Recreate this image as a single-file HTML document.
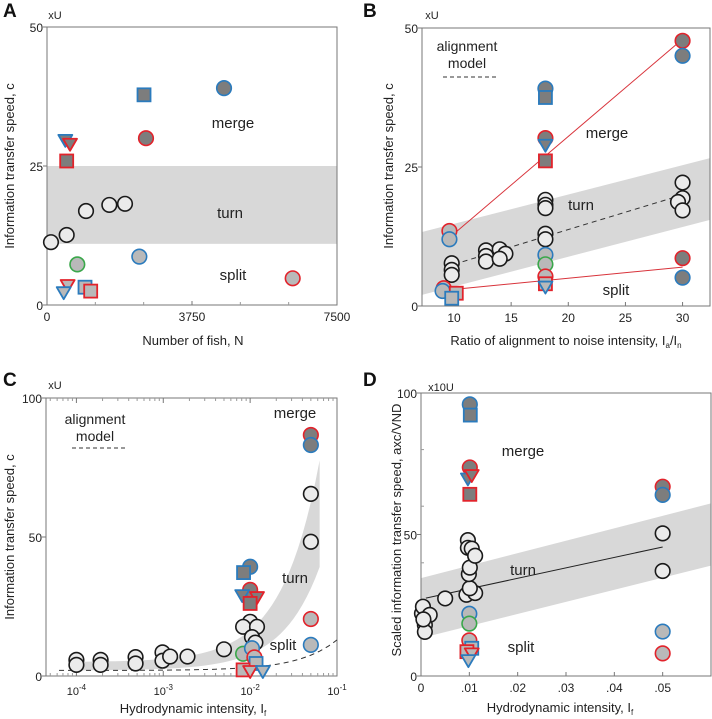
<!DOCTYPE html>
<html><head><meta charset="utf-8">
<style>
html,body{margin:0;padding:0;background:#fff;}
svg{display:block;font-family:"Liberation Sans",Arial,sans-serif;}
</style></head>
<body>
<svg id="fig" width="712" height="719" viewBox="0 0 712 719" xmlns="http://www.w3.org/2000/svg"></svg>
<script>
// ---------- Panel A data ----------
const aX = [103,509,1009,1612,2017, 4578,2509,2560,474,595,509, 2388,784,6354,534,432,983,1130];
const aY = [11.3,12.6,16.9,18,18.2, 39,37.8,30,29.7,29,25.9, 8.7,7.3,4.8,3.6,2.3,3.2,2.5];
const aKind = ["ok-w","ok-w","ok-w","ok-w","ok-w","ob-d","sb-d","or-d","tb-d","tr-d","sr-d","ob-l","og-l","or-l","tr-l","tb-l","sb-l","sr-l"];
const aXTicks = [0,3750,7500];
const aYTicks = [0,25,50];
const aBand = [11,25];
// ---------- Panel B data ----------
const bX = [9.8,9.8,9.8,12.8,12.8,12.8,14,14.5,14,18,18,18,18,18,30,30,29.6,30,
  30,30,18,18,18,18,18, 9.6,9.6,18,18,18,18,18,30,30,9.1,9,10.2,9.8];
const bY = [7.7,6.5,5.6,10,9,8,10.2,9.4,8.5,19.1,18.2,17.6,13,12,22.2,19.4,18.7,17.2,
  47.7,45,39.1,37.5,30.2,29,26.1, 13.5,12,9.2,7.5,5.3,4,3.5,8.6,5.1,3.2,2.7,2.3,1.4];
const bKind = ["ok-w","ok-w","ok-w","ok-w","ok-w","ok-w","ok-w","ok-w","ok-w","ok-w","ok-w","ok-w","ok-w","ok-w","ok-w","ok-w","ok-w","ok-w",
  "or-d","ob-d","ob-d","sb-d","or-d","tb-d","sr-d","or-l","ob-l","ob-l","og-l","or-l","sr-l","tb-l","or-d","ob-d","or-l","ob-l","sr-l","sb-l"];
const bXTicks = [10,15,20,25,30];
const bYTicks = [0,25,50];
const bBandLow = [2,15.5];
const bBandHigh = [13.3,26.6];
const bModel = [[10,7.5],[30,20]];
const bMergeFit = [[10,13],[30,48]];
const bSplitFit = [[10,3],[30,7]];
// ---------- Panel C data ----------
const cX = [0.0001,0.0001,0.00019,0.00019,0.00048,0.00048,0.00098,0.00098,0.0012,0.0019,0.005,
  0.01,0.0083,0.012,0.0105,0.0115,0.05,0.05,
  0.05,0.05,0.01,0.0084,0.01,0.0081,0.012,0.01,
  0.05,0.05,0.0083,0.0105,0.0112,0.0117,0.0083,0.01,0.014];
const cY = [5.8,4,5.8,4,6.8,4.5,8.5,5.5,7,7,9.6,
  19.5,17.7,17.7,14,12,65.5,48.3,
  86.7,83.1,39.3,37.2,31,29.1,28.4,26.1,
  20.5,11.2,8,10,6.7,4.5,2.2,1.8,1.8];
const cKind = ["ok-w","ok-w","ok-w","ok-w","ok-w","ok-w","ok-w","ok-w","ok-w","ok-w","ok-w",
  "ok-w","ok-w","ok-w","ok-w","ok-w","ok-w","ok-w",
  "or-d","ob-d","ob-d","sb-d","or-d","tb-d","tr-d","sr-d",
  "or-l","ob-l","og-l","ob-l","or-l","sb-l","sr-l","tr-l","tb-l"];
const cXTicks = [0.0001,0.001,0.01,0.1];
const cXTickLabels = ["-4","-3","-2","-1"];
const cYTicks = [0,50,100];
// ---------- Panel D data ----------
const dX = [0.0002,0.0004,0.0018,0.0008,0.0008,0.0005,0.005,0.0094,0.0112,0.0101,0.0099,0.0101,0.0097,0.0097,0.0105,0.0112,0.05,0.05,
  0.0101,0.0102,0.0101,0.0097,0.0105,0.0101,0.05,0.05,
  0.01,0.01,0.01,0.0105,0.0095,0.0105,0.0098,0.05,0.05];
const dY = [22.1,24.5,21.6,18,15.6,20,27.4,28.7,29.3,31,36,38.3,48,45.3,45,42.5,50.4,37.1,
  96,92.2,73.7,69.8,71,64.2,66.9,64,
  22,18.5,12.6,9.8,8.6,8,5.6,15.7,8];
const dKind = ["ok-w","ok-w","ok-w","ok-w","ok-w","ok-w","ok-w","ok-w","ok-w","ok-w","ok-w","ok-w","ok-w","ok-w","ok-w","ok-w","ok-w","ok-w",
  "ob-d","sb-d","or-d","tb-d","tr-d","sr-d","or-d","ob-d",
  "ob-l","og-l","or-l","sb-l","sr-l","tr-l","tb-l","ob-l","or-l"];
const dXTicks = [0,0.01,0.02,0.03,0.04,0.05];
const dXTickLabels = ["0",".01",".02",".03",".04",".05"];
const dYTicks = [0,50,100];
const dBandLow = [13.4,39];
const dBandHigh = [34.6,61];
const dFit = [[0.001,27.5],[0.05,45.6]];

const NS="http://www.w3.org/2000/svg";
const svg=document.getElementById('fig');
function el(tag,attrs,parent){const e=document.createElementNS(NS,tag);for(const k in attrs)e.setAttribute(k,attrs[k]);(parent||svg).appendChild(e);return e;}
function txt(s,x,y,size,parent,anchor,extra){const t=el('text',Object.assign({x:x,y:y,'font-size':size,'text-anchor':anchor||'middle',fill:'#222'},extra||{}),parent);t.textContent=s;return t;}
const EDGE={k:'#1a1a1a',b:'#2b7bbd',r:'#e2232b',g:'#3aa74a'};
const FILL={w:'#ebebeb',d:'#7d7d7d',l:'#b9b9b9'};
function marker(g,x,y,kind){
  const sh=kind[0],ed=EDGE[kind[1]],fl=FILL[kind[3]];
  let m;
  if(sh==='o') m=el('circle',{cx:x,cy:y,r:7.3,fill:fl,stroke:ed,'stroke-width':1.6},g);
  else if(sh==='s') m=el('rect',{x:x-6.5,y:y-6.5,width:13,height:13,fill:fl,stroke:ed,'stroke-width':1.8},g);
  else m=el('polygon',{points:`${x-7},${y-5} ${x+7},${y-5} ${x},${y+7}`,fill:fl,stroke:ed,'stroke-width':1.8,'stroke-linejoin':'round'},g);
  
  
  return m;
}
function frame(g,L,T,R,B){
  const r=el('rect',{x:L,y:T,width:R-L,height:B-T,fill:'none',stroke:'#777','stroke-width':1},g);
  
  
}
function panelLetter(s,x,y){const t=txt(s,x,y,19,svg,'start',{'font-weight':'bold',fill:'#111'});}

// ================= Panel A =================
(function(){
  const g=el('g',{});
  const L=47,T=27,R=337,B=305;
  const sx=v=>L+(v-0)/7500*(R-L), sy=v=>B-(v/50)*(B-T);
  const band=el('rect',{x:L,y:sy(aBand[1]),width:R-L,height:sy(aBand[0])-sy(aBand[1]),fill:'#d8d8d8'},g);
  
  frame(g,L,T,R,B);
  aXTicks.forEach(v=>{el('line',{x1:sx(v),y1:B,x2:sx(v),y2:B-4,stroke:'#777'},g);const t=txt(String(v),sx(v),B+16,12,g);});
  [1250,2500,5000,6250].forEach(v=>el('line',{x1:sx(v),y1:B,x2:sx(v),y2:B-3,stroke:'#999'},g));
  aYTicks.forEach(v=>{el('line',{x1:L,y1:sy(v),x2:L-4,y2:sy(v),stroke:'#777'},g);const t=txt(String(v),L-4,sy(v)+5,12,g,'end');});
  aX.forEach((x,i)=>marker(g,sx(x),sy(aY[i]),aKind[i]));
  [['merge',233,128],['turn',230,218],['split',233,280]].forEach(a=>{const t=txt(a[0],a[1],a[2],15,g);});
  let t=txt('xU',55,19,11,g);
  t=txt('Number of fish, N',193,345,13,g);
  t=txt('Information transfer speed, c',0,0,13,g,'middle',{transform:'translate(14,166) rotate(-90)'});
})();
panelLetter('A',3,17);

// ================= Panel B =================
(function(){
  const g=el('g',{});
  const L=422,T=28,R=710,B=306;
  const x0=7.2,x1=32.4;
  const sx=v=>L+(v-x0)/(x1-x0)*(R-L), sy=v=>B-(v/50)*(B-T);
  const band=el('polygon',{points:`${sx(x0)},${sy(bBandLow[0])} ${sx(x1)},${sy(bBandLow[1])} ${sx(x1)},${sy(bBandHigh[1])} ${sx(x0)},${sy(bBandHigh[0])}`,fill:'#d8d8d8'},g);
  
  frame(g,L,T,R,B);
  bXTicks.forEach(v=>{el('line',{x1:sx(v),y1:B,x2:sx(v),y2:B-4,stroke:'#777'},g);const t=txt(String(v),sx(v),B+16,12,g);});
  bYTicks.forEach(v=>{el('line',{x1:L,y1:sy(v),x2:L-4,y2:sy(v),stroke:'#777'},g);const t=txt(String(v),L-4,sy(v)+5,12,g,'end');});
  let ln=el('line',{x1:sx(bModel[0][0]),y1:sy(bModel[0][1]),x2:sx(bModel[1][0]),y2:sy(bModel[1][1]),stroke:'#333','stroke-dasharray':'5,4'},g);
  
  ln=el('line',{x1:sx(bMergeFit[0][0]),y1:sy(bMergeFit[0][1]),x2:sx(bMergeFit[1][0]),y2:sy(bMergeFit[1][1]),stroke:'#d8323a','stroke-width':1},g);
  
  ln=el('line',{x1:sx(bSplitFit[0][0]),y1:sy(bSplitFit[0][1]),x2:sx(bSplitFit[1][0]),y2:sy(bSplitFit[1][1]),stroke:'#d8323a','stroke-width':1},g);
  
  bX.forEach((x,i)=>marker(g,sx(x),sy(bY[i]),bKind[i]));
  [['merge',607,138],['turn',581,210],['split',616,295]].forEach(a=>{const t=txt(a[0],a[1],a[2],15,g);});
  let t=txt('alignment',467,51,14,g);
  t=txt('model',467,68,14,g);
  ln=el('line',{x1:443,y1:77,x2:498,y2:77,stroke:'#333','stroke-dasharray':'4,3'},g);
  t=txt('xU',432,19,11,g);
  t=el('text',{x:566,y:345,'font-size':13,'text-anchor':'middle',fill:'#222'},g);
  t.innerHTML='Ratio of alignment to noise intensity, I<tspan font-size="8" dy="3">a</tspan><tspan dy="-3">/I</tspan><tspan font-size="8" dy="3">n</tspan>';
  
  t=txt('Information transfer speed, c',0,0,13,g,'middle',{transform:'translate(393,166) rotate(-90)'});
})();
panelLetter('B',363,17);

// ================= Panel C =================
(function(){
  const g=el('g',{});
  const L=46,T=398,R=337,B=676;
  const lx0=-4.35,lx1=-1;
  const sx=v=>L+(Math.log10(v)-lx0)/(lx1-lx0)*(R-L), sy=v=>B-(v/100)*(B-T);
  const up=I=>5+1150*I, lo=I=>2+590*I;
  let top=[],bot=[];
  for(let lg=-4.05;lg<=-1.18;lg+=0.05){const I=Math.pow(10,lg);top.push(sx(I)+','+sy(up(I)));bot.unshift(sx(I)+','+sy(lo(I)));}
  const band=el('polygon',{points:top.concat(bot).join(' '),fill:'#d8d8d8'},g);
  
  frame(g,L,T,R,B);
  cXTicks.forEach((v,i)=>{el('line',{x1:sx(v),y1:B,x2:sx(v),y2:B-5,stroke:'#777'},g);el('line',{x1:sx(v),y1:T,x2:sx(v),y2:T+5,stroke:'#777'},g);
    const t=el('text',{x:sx(v),y:B+19,'font-size':11,'text-anchor':'middle',fill:'#222'},g);t.innerHTML='10<tspan font-size="8" dy="-5">'+cXTickLabels[i]+'</tspan>';});
  for(let d=-5;d<=-2;d++)for(let k=2;k<10;k++){const v=k*Math.pow(10,d);if(sx(v)>L&&sx(v)<R){el('line',{x1:sx(v),y1:B,x2:sx(v),y2:B-3,stroke:'#999'},g);el('line',{x1:sx(v),y1:T,x2:sx(v),y2:T+3,stroke:'#999'},g);}}
  cYTicks.forEach(v=>{el('line',{x1:L,y1:sy(v),x2:L-4,y2:sy(v),stroke:'#777'},g);const t=txt(String(v),L-4,sy(v)+5,12,g,'end');});
  let pts=[];for(let lg=-4.2;lg<=-1;lg+=0.05){const I=Math.pow(10,lg);pts.push(sx(I)+','+sy(2+110*I));}
  let ln=el('polyline',{points:pts.join(' '),fill:'none',stroke:'#333','stroke-dasharray':'5,4'},g);
  
  cX.forEach((x,i)=>marker(g,sx(x),sy(cY[i]),cKind[i]));
  [['merge',295,418],['turn',295,583],['split',283,650]].forEach(a=>{const t=txt(a[0],a[1],a[2],15,g);});
  let t=txt('alignment',95,424,14,g);
  t=txt('model',95,441,14,g);
  ln=el('line',{x1:72,y1:448,x2:127,y2:448,stroke:'#333','stroke-dasharray':'4,3'},g);
  t=txt('xU',55,389,11,g);
  t=el('text',{x:193,y:713,'font-size':13,'text-anchor':'middle',fill:'#222'},g);
  t.innerHTML='Hydrodynamic intensity, I<tspan font-size="8" dy="3">f</tspan>';
  t=txt('Information transfer speed, c',0,0,13,g,'middle',{transform:'translate(14,537) rotate(-90)'});
})();
panelLetter('C',3,386);

// ================= Panel D =================
(function(){
  const g=el('g',{});
  const L=421,T=393,R=711,B=676;
  const sx=v=>L+v/0.06*(R-L), sy=v=>B-(v/100)*(B-T);
  const band=el('polygon',{points:`${sx(0)},${sy(dBandLow[0])} ${sx(0.06)},${sy(dBandLow[1])} ${sx(0.06)},${sy(dBandHigh[1])} ${sx(0)},${sy(dBandHigh[0])}`,fill:'#d8d8d8'},g);
  
  frame(g,L,T,R,B);
  dXTicks.forEach((v,i)=>{el('line',{x1:sx(v),y1:B,x2:sx(v),y2:B-4,stroke:'#777'},g);const t=txt(dXTickLabels[i],sx(v),B+16,12,g);});
  dYTicks.forEach(v=>{el('line',{x1:L,y1:sy(v),x2:L-4,y2:sy(v),stroke:'#777'},g);const t=txt(String(v),L-4,sy(v)+5,12,g,'end');});
  [20,40,60,80].forEach(v=>el('line',{x1:L,y1:sy(v),x2:L+3,y2:sy(v),stroke:'#999'},g));
  let ln=el('line',{x1:sx(dFit[0][0]),y1:sy(dFit[0][1]),x2:sx(dFit[1][0]),y2:sy(dFit[1][1]),stroke:'#222','stroke-width':1},g);
  
  dX.forEach((x,i)=>marker(g,sx(x),sy(dY[i]),dKind[i]));
  [['merge',523,456],['turn',523,575],['split',521,652]].forEach(a=>{const t=txt(a[0],a[1],a[2],15,g);});
  let t=txt('x10U',441,391,11,g);
  t=el('text',{x:560,y:712,'font-size':13,'text-anchor':'middle',fill:'#222'},g);
  t.innerHTML='Hydrodynamic intensity, I<tspan font-size="8" dy="3">f</tspan>';
  t=txt('Scaled information transfer speed, axc/VND',0,0,13,g,'middle',{transform:'translate(401,530) rotate(-90)'});
})();
panelLetter('D',363,386);
</script>
</body></html>
